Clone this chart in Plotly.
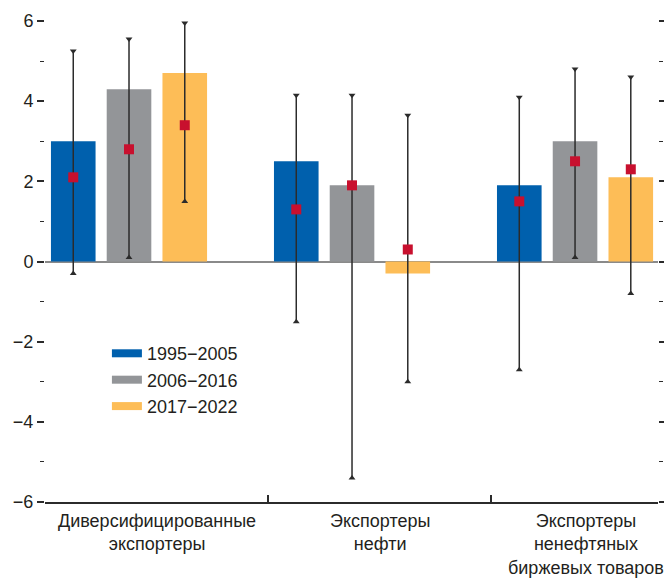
import plotly.graph_objects as go

# ---- data ----
categories = ["Диверсифицированные<br>экспортеры", "Экспортеры<br>нефти",
              "Экспортеры<br>ненефтяных<br>биржевых товаров"]
periods = ["1995−2005", "2006−2016", "2017−2022"]

bar_1995 = [3.0, 2.5, 1.9]
bar_2006 = [4.3, 1.9, 3.0]
bar_2017 = [4.7, -0.3, 2.1]

mid_1995 = [2.1, 1.3, 1.5]
mid_2006 = [2.8, 1.9, 2.5]
mid_2017 = [3.4, 0.3, 2.3]

low_1995 = [-0.3, -1.5, -2.7]
low_2006 = [0.1, -5.4, 0.1]
low_2017 = [1.5, -3.0, -0.8]

high_1995 = [5.25, 4.15, 4.1]
high_2006 = [5.55, 4.15, 4.8]
high_2017 = [5.95, 3.65, 4.6]

y_ticks = [-6, -4, -2, 0, 2, 4, 6]

# ---- styling ----
colors = ["#0060AD", "#939598", "#FDBD57"]
red = "#C8102E"
dark = "#2b2b2b"
FONT = "Liberation Sans, Arial, sans-serif"
FS = 18
offsets = [-0.25, 0.0, 0.25]
bar_w = 0.2

bars = [bar_1995, bar_2006, bar_2017]
mids = [mid_1995, mid_2006, mid_2017]
lows = [low_1995, low_2006, low_2017]
highs = [high_1995, high_2006, high_2017]

fig = go.Figure()
n = len(categories)

for k in range(3):
    xs = [i + offsets[k] for i in range(n)]
    fig.add_trace(go.Bar(x=xs, y=bars[k], width=bar_w, marker=dict(color=colors[k], line=dict(width=0)),
                         showlegend=False, hoverinfo="skip"))

for k in range(3):
    ex, ey, sym = [], [], []
    for i in range(n):
        x = i + offsets[k]
        ex += [x, x, None]
        ey += [lows[k][i], highs[k][i], None]
        sym += ["triangle-up", "triangle-down", "circle"]
    fig.add_trace(go.Scatter(x=ex, y=ey, mode="lines+markers",
                             line=dict(color=dark, width=1.5),
                             marker=dict(symbol=sym, size=6, color=dark),
                             showlegend=False, hoverinfo="skip"))

for k in range(3):
    xs = [i + offsets[k] for i in range(n)]
    fig.add_trace(go.Scatter(x=xs, y=mids[k], mode="markers",
                             marker=dict(symbol="square", size=10, color=red),
                             showlegend=False, hoverinfo="skip"))

# legend entries
for k in range(3):
    fig.add_trace(go.Scatter(x=[None], y=[None], mode="lines", name=periods[k],
                             line=dict(color=colors[k], width=8)))

label_x = [0.125, 1.125, 2.05]
for i, c in enumerate(categories):
    fig.add_annotation(x=label_x[i], y=-0.015, xref="x", yref="paper", text=c, showarrow=False,
                       xanchor="center", yanchor="top", font=dict(size=FS, color="#231F20", family=FONT))

fig.update_layout(
    width=664, height=580,
    margin=dict(l=45, r=6, t=21, b=78),
    paper_bgcolor="white", plot_bgcolor="white",
    font=dict(family=FONT, size=FS, color="#231F20"),
    barmode="overlay",
    legend=dict(x=0.101, y=0.347, xanchor="left", yanchor="top", bgcolor="rgba(0,0,0,0)",
                font=dict(size=FS), tracegroupgap=0, itemwidth=30),
    xaxis=dict(range=[-0.3767, 2.372], showgrid=False, zeroline=False,
               showline=True, linecolor=dark, linewidth=1.5,
               tickvals=[0.625, 1.625], ticktext=["", ""], ticks="inside", ticklen=7,
               tickcolor=dark, tickwidth=1.5),
    yaxis=dict(range=[-6, 6], tickvals=y_ticks, ticks="outside", ticklen=7, tickwidth=1.5,
               tickcolor=dark, showgrid=False, showline=False, mirror="ticks",
               zeroline=True, zerolinecolor="#8a8a8a", zerolinewidth=2,
               minor=dict(dtick=1, tick0=1, ticks="outside", ticklen=4, tickcolor=dark, tickwidth=1),
               tickfont=dict(size=FS)),
)

fig.write_html("out.html")
